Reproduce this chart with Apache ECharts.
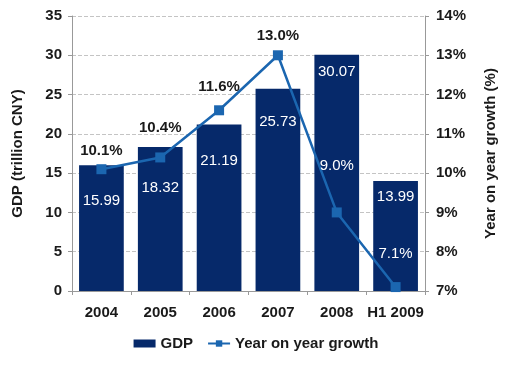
<!DOCTYPE html>
<html>
<head>
<meta charset="utf-8">
<script src="https://cdn.jsdelivr.net/npm/echarts@6/dist/echarts.min.js"></script>
<style>html,body{margin:0;padding:0;background:#fff}#c{width:512px;height:368px}</style>
</head>
<body>
<div id="c"></div>
<script>
var categories = ['2004', '2005', '2006', '2007', '2008', 'H1 2009'];
var gdp = [15.99, 18.32, 21.19, 25.73, 30.07, 13.99];
var growth = [10.1, 10.4, 11.6, 13.0, 9.0, 7.1];
var gdpTicks = [0, 35, 5];
var growthTicks = [7, 14, 1];

// label placement styling (not data)
var barLabelDist = [28, 33, 29, 26, 10, 8];
var lineLabelDist = [6, 17, 11, 7, 34, 21];
var lineLabelColor = ['#1a1a1a', '#1a1a1a', '#1a1a1a', '#1a1a1a', '#ffffff', '#ffffff'];

var FONT = '"Liberation Sans", Arial, sans-serif';
var chart = echarts.init(document.getElementById('c'), null, {renderer: 'canvas'});

var barData = gdp.map(function (v, i) {
  return {value: v, label: {distance: barLabelDist[i]}};
});
var lineData = growth.map(function (v, i) {
  return {value: v, label: {distance: lineLabelDist[i], color: lineLabelColor[i],
    fontWeight: i < 4 ? 'bold' : 'normal'}};
});

chart.setOption({
  animation: false,
  backgroundColor: '#fff',
  textStyle: {fontFamily: FONT},
  grid: {left: 72, right: 87, top: 16, bottom: 77},
  legend: {
    left: 'center', top: 331,
    itemGap: 14, itemWidth: 22, itemHeight: 8,
    textStyle: {fontFamily: FONT, fontSize: 15, fontWeight: 'bold', color: '#1a1a1a'},
    data: [{name: 'GDP', icon: 'rect'}, {name: 'Year on year growth'}]
  },
  xAxis: {
    type: 'category', data: categories,
    axisLine: {lineStyle: {color: '#999', width: 1}},
    axisTick: {show: true, length: 4, lineStyle: {color: '#999'}},
    axisLabel: {fontFamily: FONT, fontSize: 15, fontWeight: 'bold', color: '#1a1a1a', margin: 14, interval: 0}
  },
  yAxis: [{
    type: 'value', min: gdpTicks[0], max: gdpTicks[1], interval: gdpTicks[2],
    name: 'GDP (trillion CNY)', nameLocation: 'middle', nameGap: 47,
    nameTextStyle: {fontFamily: FONT, fontSize: 15, fontWeight: 'bold', color: '#1a1a1a'},
    axisLine: {show: true, lineStyle: {color: '#999'}},
    axisTick: {show: true, length: 4, lineStyle: {color: '#999'}},
    axisLabel: {fontFamily: FONT, fontSize: 15, fontWeight: 'bold', color: '#1a1a1a', margin: 10},
    splitLine: {show: true, lineStyle: {color: '#c4c4c4', type: 'dashed'}}
  }, {
    type: 'value', min: growthTicks[0], max: growthTicks[1], interval: growthTicks[2],
    position: 'right',
    name: 'Year on year growth (%)', nameLocation: 'middle', nameGap: 58,
    nameTextStyle: {fontFamily: FONT, fontSize: 15, fontWeight: 'bold', color: '#1a1a1a'},
    axisLine: {show: true, lineStyle: {color: '#999'}},
    axisTick: {show: true, length: 4, lineStyle: {color: '#999'}},
    axisLabel: {fontFamily: FONT, fontSize: 15, fontWeight: 'bold', color: '#1a1a1a', margin: 11, formatter: '{value}%'},
    splitLine: {show: false}
  }],
  series: [{
    name: 'GDP', type: 'bar', yAxisIndex: 0, data: barData,
    barCategoryGap: '24%',
    itemStyle: {color: '#06296a'},
    label: {show: true, position: 'insideTop', color: '#fff', fontFamily: FONT, fontSize: 15,
      formatter: function (p) { return p.value.toFixed(2); }}
  }, {
    name: 'Year on year growth', type: 'line', yAxisIndex: 1, data: lineData,
    symbol: 'rect', symbolSize: 10,
    lineStyle: {color: '#1b66b0', width: 2.5},
    itemStyle: {color: '#1b66b0'},
    label: {show: true, position: 'top', fontFamily: FONT, fontSize: 15,
      formatter: function (p) { return p.value.toFixed(1) + '%'; }},
    z: 3
  }]
});
</script>
</body>
</html>
